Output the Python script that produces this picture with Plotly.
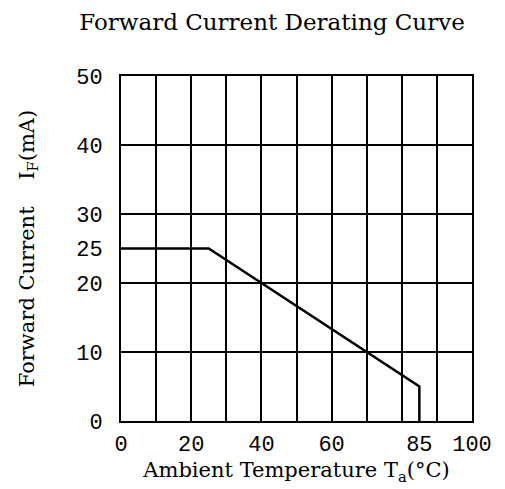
import plotly.graph_objects as go

# Data
temperature = [0, 25, 85, 85]
forward_current = [25, 25, 5, 0]

x_tick_vals = [0, 20, 40, 60, 85, 100]
x_tick_text = ["0", "20", "40", "60", "85", "100"]
y_tick_vals = [0, 10, 20, 25, 30, 40, 50]
y_tick_text = ["0", "10", "20", "25", "30", "40", "50"]

W, H = 497, 481  # page body has an 8px margin

fig = go.Figure()
fig.add_trace(go.Scatter(
    x=temperature, y=forward_current, mode="lines",
    line=dict(color="black", width=2.5), showlegend=False, hoverinfo="skip"
))

tick_font = dict(family="Liberation Mono", size=22, color="black")
title_font = dict(family="DejaVu Serif", size=21, color="black")

fig.update_layout(
    width=W, height=H, autosize=False,
    margin=dict(l=113, r=33, t=68, b=65),
    plot_bgcolor="white", paper_bgcolor="white",
    title=dict(text="Forward Current Derating Curve", x=264 / W, xref="container", xanchor="center",
               y=1 - 14 / H, yref="container", yanchor="middle",
               font=dict(family="DejaVu Serif", size=23, color="black")),
    xaxis=dict(
        range=[0, 100], tickmode="array", tickvals=x_tick_vals, ticktext=x_tick_text,
        showgrid=False, zeroline=False, showline=True, mirror=True,
        linecolor="black", linewidth=2, ticks="", tickfont=tick_font,
        ticklabelstandoff=2,
        minor=dict(dtick=10, tick0=0, showgrid=True, gridcolor="black", gridwidth=1.6, ticks=""),
        title=dict(text="Ambient Temperature T<sub>a</sub>(°C)", font=title_font, standoff=4),
    ),
    yaxis=dict(
        range=[0, 50], tickmode="array", tickvals=y_tick_vals, ticktext=y_tick_text,
        showgrid=False, zeroline=False, showline=True, mirror=True,
        linecolor="black", linewidth=2, ticks="", tickfont=tick_font,
        ticklabelstandoff=12,
        minor=dict(dtick=10, tick0=0, showgrid=True, gridcolor="black", gridwidth=1.6, ticks=""),
        title=dict(text="Forward Current\u00a0\u00a0\u00a0\u00a0I<sub>F</sub>(mA)", font=title_font, standoff=36),
    ),
)

fig.write_html("out.html")
